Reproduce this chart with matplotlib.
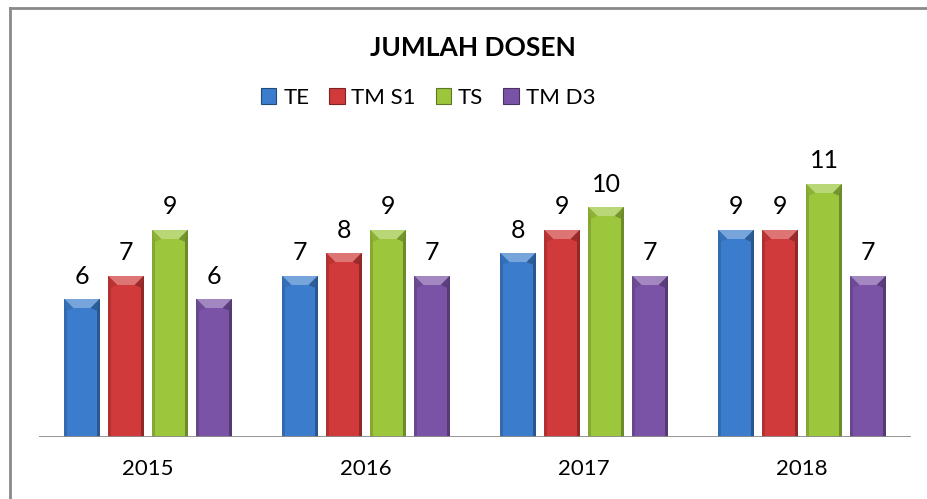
import matplotlib
matplotlib.use("Agg")
import matplotlib.pyplot as plt
from matplotlib.patches import Polygon, Rectangle
from matplotlib.lines import Line2D
import matplotlib.colors as mcolors
import numpy as np

plt.rcParams['font.family'] = ['Lato', 'DejaVu Sans']

years = ['2015', '2016', '2017', '2018']
series_names = ['TE', 'TM S1', 'TS', 'TM D3']
te = [6, 7, 8, 9]
tm_s1 = [7, 8, 9, 9]
ts = [9, 9, 10, 11]
tm_d3 = [6, 7, 7, 7]
colors = ['#3b7dcc', '#d03a3a', '#9cc63c', '#7a53a6']


def shade(c, f):
    r, g, b = mcolors.to_rgb(c)
    if f > 1:
        return tuple(x + (1 - x) * (f - 1) for x in (r, g, b))
    return tuple(x * f for x in (r, g, b))


fig = plt.figure(figsize=(9.28, 4.99), dpi=100)
fig.patch.set_facecolor('white')

# outer chart frame (left and top edges visible)
fig.add_artist(Line2D([10 / 928, 10 / 928], [0, 1 - 8 / 499], transform=fig.transFigure,
                      color='#8a8a8a', lw=2))
fig.add_artist(Line2D([10 / 928, 1], [1 - 8 / 499, 1 - 8 / 499], transform=fig.transFigure,
                      color='#8a8a8a', lw=2))

ax = fig.add_axes([39 / 928, 62 / 499, 872 / 928, 322 / 499])
ax.set_xlim(-0.5, 3.5)
ax.set_ylim(0, 14)

width = 0.162
step = 0.202
offsets = np.array([-1.5, -0.5, 0.5, 1.5]) * step
x = np.arange(len(years))

# bevel sizes in data units (approx px converted)
px_x = 1 / 218.0
px_y = 1 / 23.0
tx, ty = 9 * px_x, 9 * px_y   # top bevel
sx = 3 * px_x                  # side strips

for vals, name, col, off in zip([te, tm_s1, ts, tm_d3], series_names, colors, offsets):
    for xi, v in zip(x, vals):
        left = xi + off - width / 2
        right = left + width
        ax.add_patch(Rectangle((left, 0), width, v, facecolor=col, edgecolor='none', zorder=2))
        # darker side strips
        ax.add_patch(Rectangle((left, 0), sx, v, facecolor=shade(col, 0.85),
                               edgecolor='none', zorder=3))
        ax.add_patch(Rectangle((right - sx, 0), sx, v, facecolor=shade(col, 0.7),
                               edgecolor='none', zorder=3))
        # light top bevel
        ax.add_patch(Polygon([(left, v), (right, v), (right - tx, v - ty), (left + tx, v - ty)],
                             facecolor=shade(col, 1.3), edgecolor='none', zorder=4))
        ax.add_patch(Polygon([(left, v), (left + tx, v - ty), (left + sx, v - ty * 1.3)],
                             facecolor=shade(col, 0.9), edgecolor='none', zorder=4))
        ax.add_patch(Polygon([(right, v), (right - tx, v - ty), (right - sx, v - ty * 1.3)],
                             facecolor=shade(col, 0.75), edgecolor='none', zorder=4))
        ax.text(xi + off, v + 0.5, str(v), ha='center', va='bottom', fontsize=18, color='black')

ax.axhline(0, color='#8c8c8c', lw=2, zorder=5)
for s in ax.spines.values():
    s.set_visible(False)
ax.set_yticks([])
ax.set_xticks(x)
ax.set_xticklabels(years, fontsize=16)
ax.tick_params(axis='x', length=0, pad=16)

fig.text(473 / 928, 1 - 48 / 499, 'JUMLAH DOSEN', ha='center', va='center',
         fontsize=19, fontweight='bold')

handles = [Rectangle((0, 0), 1, 1, facecolor=c, edgecolor=shade(c, 0.6), lw=0.8) for c in colors]
fig.legend(handles, series_names, loc='center', bbox_to_anchor=(428 / 928, 1 - 98 / 499),
           ncol=4, frameon=False, fontsize=16, handlelength=0.7, handleheight=0.7,
           handletextpad=0.3, columnspacing=0.9)

fig.savefig('out.png', dpi=100)
